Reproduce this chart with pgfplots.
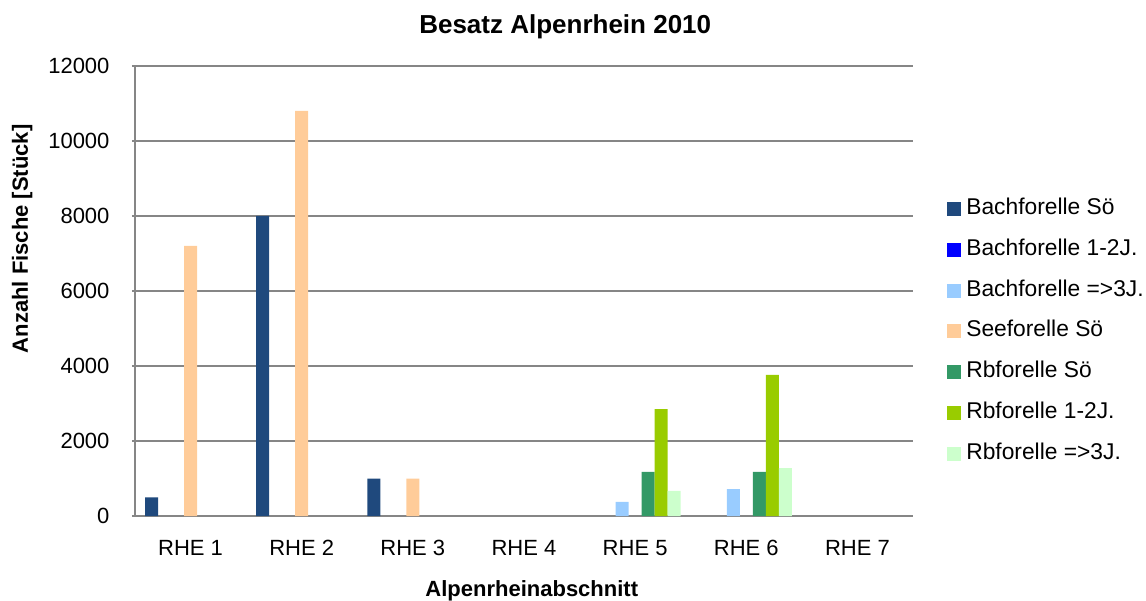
\documentclass[border=0pt]{standalone}
\usepackage{fontspec}
\setmainfont{Liberation Sans}
\usepackage{pgfplots}
\pgfplotsset{compat=1.18}
\definecolor{cBS}{HTML}{1F497D}
\definecolor{cB12}{HTML}{0000FF}
\definecolor{cB3}{HTML}{99CCFF}
\definecolor{cSS}{HTML}{FFCC99}
\definecolor{cRS}{HTML}{339966}
\definecolor{cR12}{HTML}{99CC00}
\definecolor{cR3}{HTML}{CCFFCC}
\definecolor{gridgray}{HTML}{868686}
\begin{document}
\begin{tikzpicture}
\useasboundingbox (0,0) rectangle (1146pt,600pt);
\begin{axis}[
  at={(135pt,84pt)}, anchor=south west,
  scale only axis, width=778pt, height=450pt,
  ybar, bar width=13pt,
  xmin=-0.5, xmax=6.5, ymin=0, ymax=12000,
  xtick={0,...,6},
  xticklabels={RHE 1,RHE 2,RHE 3,RHE 4,RHE 5,RHE 6,RHE 7},
  x tick style={draw=none},
  extra x ticks={-0.5,0.5,1.5,2.5,3.5,4.5,5.5,6.5},
  extra x tick labels={},
  extra x tick style={major tick length=6pt, tick style={draw=gridgray, line width=1.3pt}, grid=none},
  ytick={0,2000,...,12000},
  scaled y ticks=false,
  y tick style={draw=gridgray, line width=1.3pt},
  major tick length=6pt,
  tick align=outside,
  axis lines=left,
  axis line style={-, draw=gridgray, line width=1.5pt},
  ymajorgrids, grid style={draw=gridgray, line width=1.3pt},
  /pgf/number format/assume math mode=true,
  /pgf/number format/1000 sep={},
  tick label style={font=\fontsize{22}{26}\selectfont},
  yticklabel style={xshift=-19pt},
  xticklabel style={yshift=-18pt},
  title={Besatz Alpenrhein 2010},
  title style={font=\bfseries\fontsize{26}{30}\selectfont, at={(axis description cs:0.553,1.073)}, anchor=center},
  xlabel={Alpenrheinabschnitt},
  xlabel style={font=\bfseries\fontsize{22}{26}\selectfont, at={(axis description cs:0.51,-0.167)}, anchor=center},
  ylabel={Anzahl Fische [Stück]},
  ylabel style={font=\bfseries\fontsize{22}{26}\selectfont, at={(axis description cs:-0.145,0.616)}, anchor=center},
  legend style={at={(1.04,0.714)}, anchor=north west, draw=none, fill=none,
    font=\fontsize{22.8}{26}\selectfont, row sep=15.7pt,
    nodes={text height=16pt, text depth=5pt, inner sep=2pt}},
  legend cell align=left,
  legend image code/.code={\path[#1] (0pt,-7pt) rectangle (14pt,7pt); \path (17pt,0pt);},
]
% Bachforelle Sö
\addplot[fill=cBS, draw=none, bar shift=-39pt] coordinates {(0,500) (1,8000) (2,1000)};
\addlegendentry{Bachforelle Sö}
% Bachforelle 1-2J. (no stocking in 2010)
\addlegendimage{fill=cB12, draw=none}
\addlegendentry{Bachforelle 1-2J.}
% Bachforelle =>3J.
\addplot[fill=cB3, draw=none, bar shift=-13pt] coordinates {(4,380) (5,720)};
\addlegendentry{Bachforelle =>3J.}
% Seeforelle Sö
\addplot[fill=cSS, draw=none, bar shift=0pt] coordinates {(0,7200) (1,10800) (2,1000)};
\addlegendentry{Seeforelle Sö}
% Rbforelle Sö
\addplot[fill=cRS, draw=none, bar shift=13pt] coordinates {(4,1180) (5,1180)};
\addlegendentry{Rbforelle Sö}
% Rbforelle 1-2J.
\addplot[fill=cR12, draw=none, bar shift=26pt] coordinates {(4,2850) (5,3760)};
\addlegendentry{Rbforelle 1-2J.}
% Rbforelle =>3J.
\addplot[fill=cR3, draw=none, bar shift=39pt] coordinates {(4,670) (5,1280)};
\addlegendentry{Rbforelle =>3J.}
\end{axis}
\end{tikzpicture}
\end{document}
